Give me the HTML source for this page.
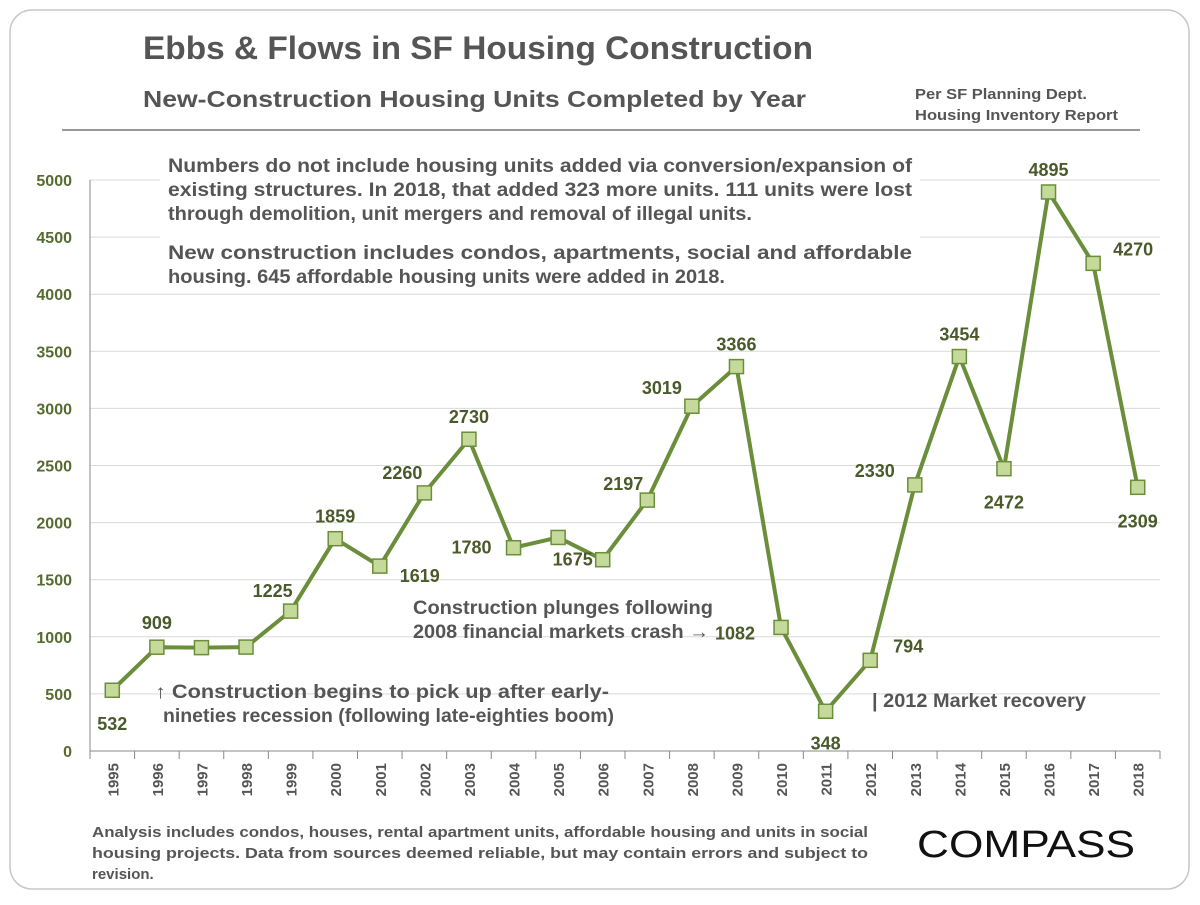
<!DOCTYPE html>
<html><head><meta charset="utf-8"><style>
body{margin:0;width:1200px;height:900px;background:#fff;font-family:"Liberation Sans",Arial,sans-serif;overflow:hidden}
svg text{font-family:"Liberation Sans",Arial,sans-serif}
</style></head><body>
<svg width="1200" height="900">
<rect x="10" y="10" width="1179" height="879" rx="22" fill="#fff" stroke="#c8c8c8" stroke-width="1.5"/>
<text x="143" y="59" font-size="32" font-weight="bold" fill="#555" textLength="670" lengthAdjust="spacingAndGlyphs">Ebbs &amp; Flows in SF Housing Construction</text>
<text x="143" y="107" font-size="23" font-weight="bold" fill="#555" textLength="663" lengthAdjust="spacingAndGlyphs">New-Construction  Housing Units Completed by Year</text>
<text x="915" y="99" font-size="15" font-weight="bold" fill="#555" textLength="172" lengthAdjust="spacingAndGlyphs">Per SF Planning Dept.</text>
<text x="915" y="120" font-size="15" font-weight="bold" fill="#555" textLength="203" lengthAdjust="spacingAndGlyphs">Housing  Inventory Report</text>
<line x1="62" y1="130" x2="1140" y2="130" stroke="#777" stroke-width="1.5"/>
<g id="grid"></g>
<g id="axes"></g>
<rect x="160" y="148" width="760" height="145" fill="#fff"/>
<g font-size="19" font-weight="bold" fill="#555">
<text x="168" y="172" textLength="744" lengthAdjust="spacingAndGlyphs">Numbers do not include housing units added via conversion/expansion of</text>
<text x="168" y="196" textLength="744" lengthAdjust="spacingAndGlyphs">existing structures. In 2018, that added 323 more units. 111 units were lost</text>
<text x="168" y="220" textLength="584" lengthAdjust="spacingAndGlyphs">through demolition, unit mergers and removal of illegal units.</text>
<text x="168" y="259" textLength="744" lengthAdjust="spacingAndGlyphs">New construction includes condos, apartments, social and affordable</text>
<text x="168" y="283" textLength="557" lengthAdjust="spacingAndGlyphs">housing. 645 affordable housing units were added in 2018.</text>
</g>
<g font-size="19" font-weight="bold" fill="#555">
<text x="155" y="698" textLength="454" lengthAdjust="spacingAndGlyphs">↑ Construction begins to pick up after early-</text>
<text x="163" y="722" textLength="451" lengthAdjust="spacingAndGlyphs">nineties recession (following late-eighties boom)</text>
<text x="413" y="614" textLength="300" lengthAdjust="spacingAndGlyphs">Construction plunges following</text>
<text x="413" y="638" textLength="296" lengthAdjust="spacingAndGlyphs">2008 financial markets crash →</text>
<text x="872" y="707" textLength="214" lengthAdjust="spacingAndGlyphs">| 2012 Market recovery</text>
</g>
<g id="series"></g>
<g font-size="15" font-weight="bold" fill="#555">
<text x="92" y="837" textLength="776" lengthAdjust="spacingAndGlyphs">Analysis includes condos, houses, rental apartment units, affordable housing and units in social</text>
<text x="92" y="858" textLength="776" lengthAdjust="spacingAndGlyphs">housing projects. Data from sources deemed reliable, but may contain errors and subject to</text>
<text x="92" y="879">revision.</text>
</g>
<text x="917" y="857" font-size="38" fill="#111" textLength="218" lengthAdjust="spacingAndGlyphs">COMPASS</text>
</svg>
<script>
const years=["1995","1996","1997","1998","1999","2000","2001","2002","2003","2004","2005","2006","2007","2008","2009","2010","2011","2012","2013","2014","2015","2016","2017","2018"];
const units=[532,909,905,910,1225,1859,1619,2260,2730,1780,1870,1675,2197,3019,3366,1082,348,794,2330,3454,2472,4895,4270,2309];
const labels=["532","909","","","1225","1859","1619","2260","2730","1780","","1675","2197","3019","3366","1082","348","794","2330","3454","2472","4895","4270","2309"];
const yTicks=[0,500,1000,1500,2000,2500,3000,3500,4000,4500,5000];
const lblPos={0:[0,34],1:[0,-24],4:[-18,-20],5:[0,-22],6:[40,10],7:[-22,-20],8:[0,-22],9:[-42,0],11:[-30,0],12:[-24,-16],13:[-30,-18],14:[0,-22],15:[-46,6],16:[0,32],17:[38,-14],18:[-40,-14],19:[0,-22],20:[0,34],21:[0,-22],22:[40,-14],23:[0,34]};
const NS="http://www.w3.org/2000/svg";
const x0=90,x1=1160,y0=751,yMax=5000,yTop=180;
const bw=(x1-x0)/years.length;
const X=i=>x0+bw*(i+0.5);
const Y=v=>y0-(v/yMax)*(y0-yTop);
function mk(tag,attrs,parent,txt){const e=document.createElementNS(NS,tag);for(const k in attrs)e.setAttribute(k,attrs[k]);if(txt!==undefined)e.textContent=txt;parent.appendChild(e);return e;}
const grid=document.getElementById('grid'),axes=document.getElementById('axes'),ser=document.getElementById('series');
yTicks.forEach(t=>{
 const g=mk('line',{x1:x0,x2:x1,y1:Y(t),y2:Y(t),stroke:t?'#d9d9d9':'#888','stroke-width':1},grid);
 
 
 const l=mk('text',{x:72,y:Y(t)+6,'text-anchor':'end','font-size':16,'font-weight':'bold',fill:'#556b2f'},axes,String(t));
 
 
});
const ya=mk('line',{x1:x0,x2:x0,y1:yTop,y2:y0+8,stroke:'#888'},axes);


years.forEach((yr,i)=>{
 const tk=mk('line',{x1:x0+bw*(i+1),x2:x0+bw*(i+1),y1:y0,y2:y0+8,stroke:'#888'},axes);
 
 
 const t=mk('text',{x:0,y:0,'text-anchor':'end','font-size':15,'font-weight':'bold',fill:'#555',transform:`translate(${X(i)+6},${y0+12}) rotate(-90)`},axes,yr);
 
 
});
const pl=mk('polyline',{points:units.map((v,i)=>X(i)+','+Y(v)).join(' '),fill:'none',stroke:'#6b8e3a','stroke-width':4,'stroke-linejoin':'round'},ser);


units.forEach((v,i)=>{
 const m=mk('rect',{x:X(i)-7,y:Y(v)-7,width:14,height:14,fill:'#c4d99a',stroke:'#6b8e3a','stroke-width':1.5},ser);
 
 
 if(labels[i]){
  const o=lblPos[i]||[0,-22];
  const t=mk('text',{x:X(i)+o[0],y:Y(v)+o[1]+6,'text-anchor':'middle','font-size':18,'font-weight':'bold',fill:'#4a5a2a'},ser,labels[i]);
  
  
 }
});
</script>
</body></html>
